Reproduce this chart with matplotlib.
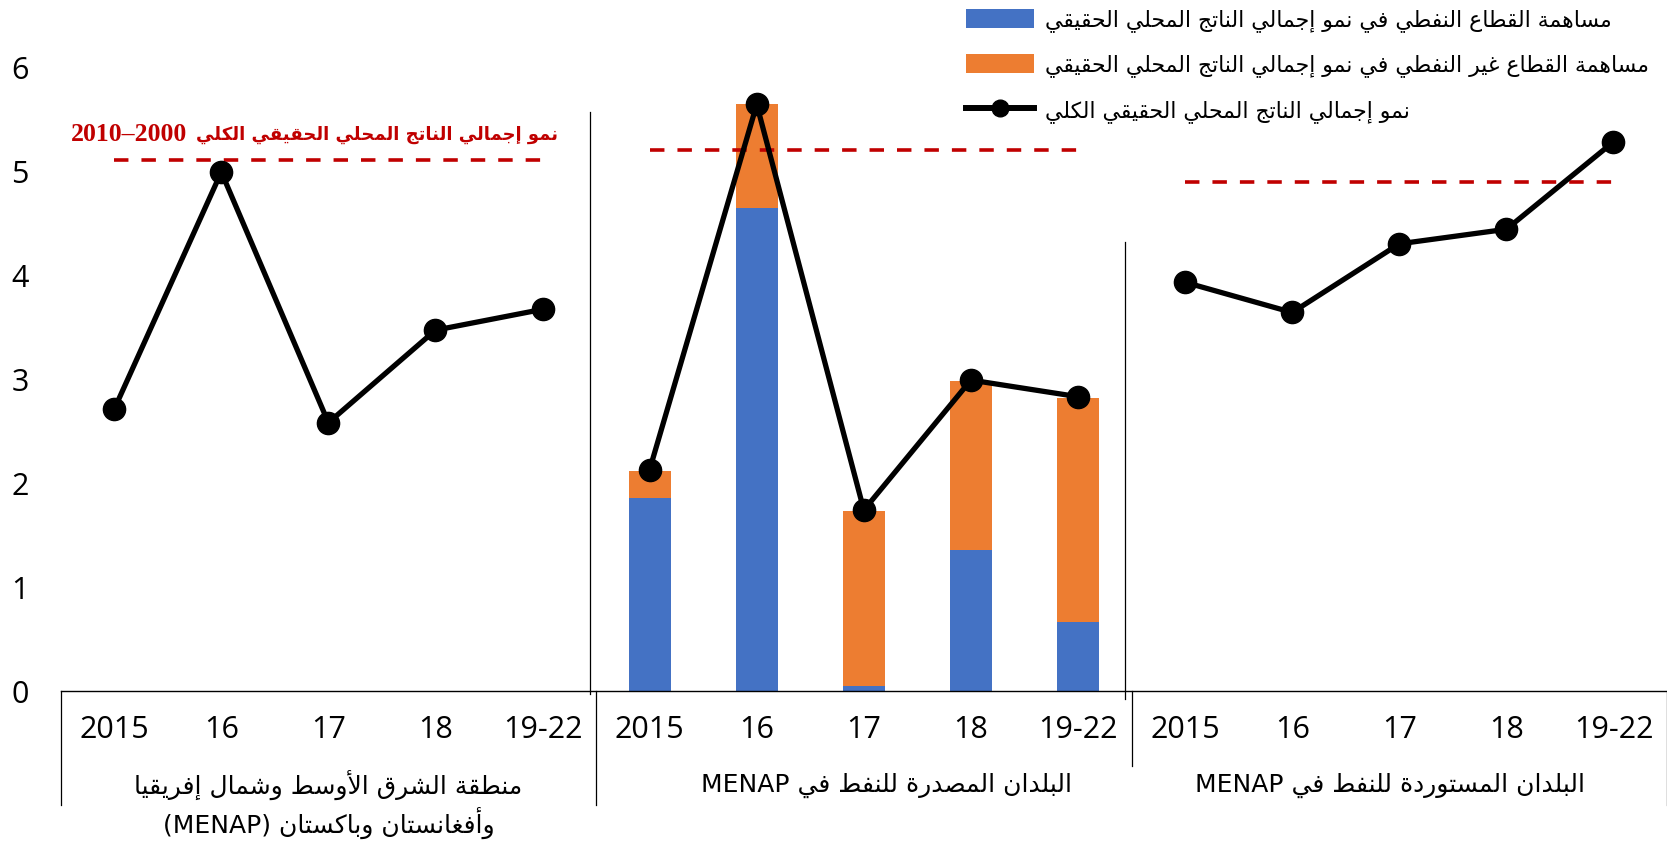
import re
import matplotlib
matplotlib.use("Agg")
import matplotlib.pyplot as plt
import matplotlib.transforms as mtransforms
from matplotlib.patches import Patch
from matplotlib.lines import Line2D

# ---- data ----
years = ["2015", "16", "17", "18", "19-22"]
group_lines = [["منطقة الشرق الأوسط وشمال إفريقيا", "وأفغانستان وباكستان (MENAP)"],
               ["البلدان المصدرة للنفط في MENAP"],
               ["البلدان المستوردة للنفط في MENAP"]]

menap_total = [2.71, 4.99, 2.58, 3.47, 3.67]
exporters_total = [2.13, 5.64, 1.74, 2.99, 2.83]
importers_total = [3.93, 3.64, 4.30, 4.44, 5.28]

exporters_oil = [1.86, 4.64, 0.05, 1.36, 0.66]
exporters_nonoil = [0.26, 1.00, 1.68, 1.62, 2.16]

avg_2000_2010 = [5.11, 5.20, 4.89]

legend_labels = ["مساهمة القطاع النفطي في نمو إجمالي الناتج المحلي الحقيقي",
                 "مساهمة القطاع غير النفطي في نمو إجمالي الناتج المحلي الحقيقي",
                 "نمو إجمالي الناتج المحلي الحقيقي الكلي"]
avg_label = "نمو إجمالي الناتج المحلي الحقيقي الكلي"
avg_years = "2010–2000"   # as it reads in the right-to-left label

BLUE = "#4472C4"
ORANGE = "#ED7D31"
RED = "#C00000"

# ---- minimal arabic shaping (matplotlib has no bidi / joining) ----
FORMS = {
    '\u0621': (0xFE80, 0), '\u0622': (0xFE81, 2), '\u0623': (0xFE83, 2),
    '\u0624': (0xFE85, 2), '\u0625': (0xFE87, 2), '\u0626': (0xFE89, 4),
    '\u0627': (0xFE8D, 2), '\u0628': (0xFE8F, 4), '\u0629': (0xFE93, 2),
    '\u062A': (0xFE95, 4), '\u062B': (0xFE99, 4), '\u062C': (0xFE9D, 4),
    '\u062D': (0xFEA1, 4), '\u062E': (0xFEA5, 4), '\u062F': (0xFEA9, 2),
    '\u0630': (0xFEAB, 2), '\u0631': (0xFEAD, 2), '\u0632': (0xFEAF, 2),
    '\u0633': (0xFEB1, 4), '\u0634': (0xFEB5, 4), '\u0635': (0xFEB9, 4),
    '\u0636': (0xFEBD, 4), '\u0637': (0xFEC1, 4), '\u0638': (0xFEC5, 4),
    '\u0639': (0xFEC9, 4), '\u063A': (0xFECD, 4), '\u0641': (0xFED1, 4),
    '\u0642': (0xFED5, 4), '\u0643': (0xFED9, 4), '\u0644': (0xFEDD, 4),
    '\u0645': (0xFEE1, 4), '\u0646': (0xFEE5, 4), '\u0647': (0xFEE9, 4),
    '\u0648': (0xFEED, 2), '\u0649': (0xFEEF, 2), '\u064A': (0xFEF1, 4),
}
LAM_ALEF = {'\u0622': 0xFEF5, '\u0623': 0xFEF7, '\u0625': 0xFEF9, '\u0627': 0xFEFB}


def ar(line):
    out = []
    i, n = 0, len(line)
    while i < n:
        c = line[i]
        if c not in FORMS:
            out.append(c)
            i += 1
            continue
        prev = line[i - 1] if i > 0 else ''
        jp = prev in FORMS and FORMS[prev][1] == 4
        if c == '\u0644' and i + 1 < n and line[i + 1] in LAM_ALEF:
            out.append(chr(LAM_ALEF[line[i + 1]] + int(jp)))
            i += 2
            continue
        base, kind = FORMS[c]
        nxt = line[i + 1] if i + 1 < n else ''
        jn = kind == 4 and nxt in FORMS and FORMS[nxt][1] > 0
        if kind == 0:
            f = 0
        elif jp and jn:
            f = 3
        elif jp:
            f = 1
        elif jn:
            f = 2
        else:
            f = 0
        out.append(chr(base + f))
        i += 1
    toks = re.findall(r'[A-Za-z0-9]+|.', ''.join(out))
    toks.reverse()
    mirror = {'(': ')', ')': '('}
    return ''.join(mirror.get(t, t) for t in toks)


plt.rcParams['font.family'] = ['DejaVu Sans']

fig = plt.figure(figsize=(16.67, 8.42), dpi=100)
ax = fig.add_axes([0.0364, 0.1793, 0.9636, 0.7411])

n = len(years)
x1 = list(range(0, n))
x2 = list(range(n, 2 * n))
x3 = list(range(2 * n, 3 * n))

bw = 0.39
ax.bar(x2, exporters_oil, bw, color=BLUE, zorder=2)
ax.bar(x2, exporters_nonoil, bw, bottom=exporters_oil, color=ORANGE, zorder=2)

line_kw = dict(color="black", lw=3.8, marker="o", ms=16, zorder=4)
for xs, ys in [(x1, menap_total), (x2, exporters_total), (x3, importers_total)]:
    ax.plot(xs, ys, **line_kw)

for xs, v in zip([x1, x2, x3], avg_2000_2010):
    ax.plot([xs[0], xs[-1]], [v, v], color=RED, lw=2.6, ls=(0, (4.0, 3.6)), zorder=3)

ax.set_xlim(-0.5, 3 * n - 0.5)
ax.set_ylim(0, 6)
ax.set_yticks(range(0, 7))
ax.tick_params(axis="y", length=0, pad=23)
for lab in ax.get_yticklabels():
    lab.set_fontfamily(["Open Sans", "DejaVu Sans"])
    lab.set_fontsize(22)
ax.set_xticks([])
for s in ["left", "right", "top"]:
    ax.spines[s].set_visible(False)
ax.spines["bottom"].set_linewidth(1.0)

# category axis below
trans = mtransforms.blended_transform_factory(ax.transData, ax.transAxes)
for i, yr in enumerate(years * 3):
    ax.text(i, -0.062, yr, transform=trans, ha="center", va="center",
            fontsize=22, family=["Open Sans", "DejaVu Sans"])
for gx, lines in zip([2.0, 7.21, 11.91], group_lines):
    for k, ln in enumerate(lines):
        ax.text(gx, -0.151 - 0.06 * k, ar(ln), transform=trans, ha="center",
                va="center", fontsize=18)

for xv, yb in [(-0.5, -0.183), (4.5, -0.183), (9.5, -0.12), (14.5, -0.183)]:
    ax.plot([xv, xv], [0, yb], transform=trans, color="black", lw=0.9, clip_on=False)

# separators inside plot area
ax.plot([4.443, 4.443], [-0.03, 5.57], color="black", lw=0.9, clip_on=False)
ax.plot([9.44, 9.44], [-0.08, 4.32], color="black", lw=0.9, clip_on=False)

t_avg = ax.text(4.14, 5.35, ar(avg_label), ha="right", va="center", color=RED,
                fontsize=13, fontweight="bold")
ax.annotate(avg_years, xy=(0, 0.5), xycoords=t_avg,
            xytext=(-6, 0), textcoords="offset points", ha="right", va="center",
            color=RED, fontsize=18.5, fontweight="bold",
            family=["Liberation Serif", "DejaVu Serif"])

handles = [Patch(facecolor=BLUE), Patch(facecolor=ORANGE),
           Line2D([], [], color="black", lw=4.3, marker="o", ms=12)]
fig.legend(handles, [ar(l) for l in legend_labels], loc="upper left",
           bbox_to_anchor=(966 / 1667, 1 - 9 / 842), frameon=False, fontsize=15.8,
           handlelength=3.1, handleheight=0.95, labelspacing=1.02,
           handletextpad=0.5, borderpad=0, borderaxespad=0)

fig.savefig("out.png", dpi=100)
